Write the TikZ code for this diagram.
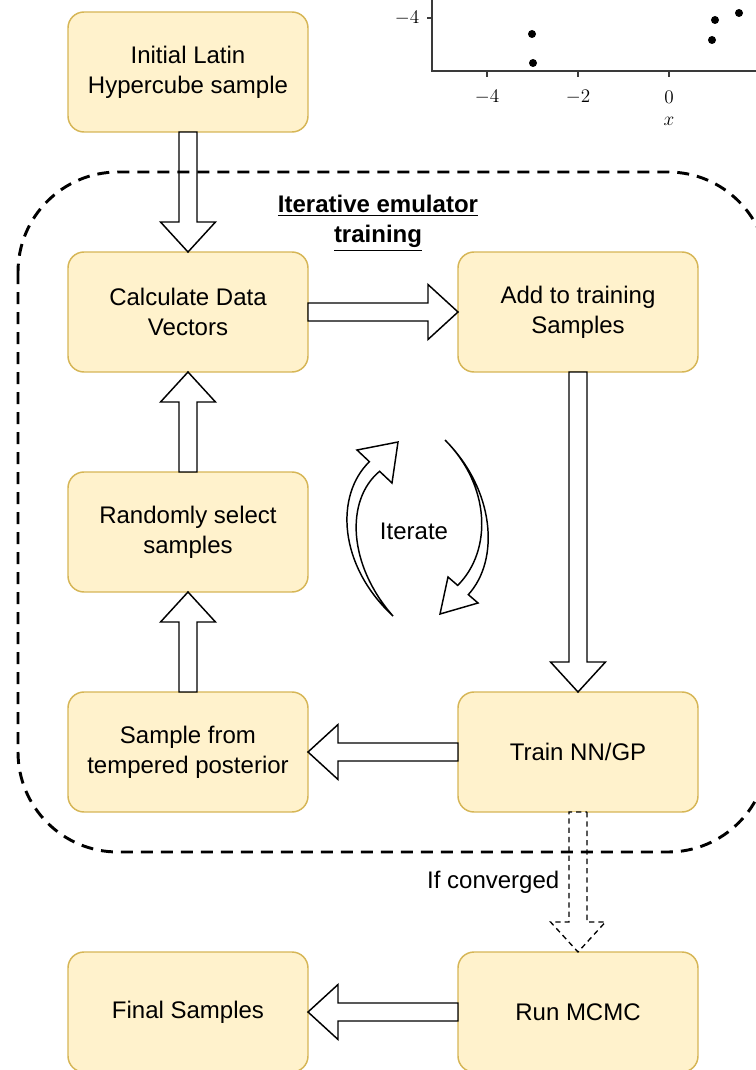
\documentclass[tikz,border=0pt]{standalone}
\usepackage{fontspec}
\setmainfont{Liberation Sans}
\usetikzlibrary{calc}
\definecolor{boxfill}{HTML}{FFF2CC}
\definecolor{boxline}{HTML}{D6B656}
\definecolor{axisgray}{HTML}{3A3A3A}
\tikzset{
  stepbox/.style={draw=boxline, fill=boxfill, line width=1.1pt, rounded corners=12pt,
    minimum width=180pt, minimum height=90pt, outer sep=0pt, align=center,
    font=\fontsize{18}{22.5}\selectfont},
  blockarrowstyle/.style={draw=black, fill=white, line width=1.1pt, line join=miter},
  plaintext/.style={font=\fontsize{18}{22.5}\selectfont, align=center},
  ticklabel/.style={font=\fontsize{14.5}{17}\selectfont},
  dot/.style={fill=black, draw=none},
}
\newcommand\blockarrow[3][]{%
  \coordinate (ba-h) at ($(#3)!22.5pt!(#2)$);
  \draw[blockarrowstyle,#1]
    ($(#2)!6.75pt!90:(#3)$) -- ($(ba-h)!6.75pt!90:(#3)$) -- ($(ba-h)!20.6pt!90:(#3)$)
    -- (#3) -- ($(ba-h)!20.6pt!-90:(#3)$) -- ($(ba-h)!6.75pt!-90:(#3)$)
    -- ($(#2)!6.75pt!-90:(#3)$) -- cycle;
}
\begin{document}
\begin{tikzpicture}[x=0.75pt, y=-0.75pt]
\useasboundingbox (0,0) rectangle (756,1070);
\clip (0,0) rectangle (756,1070);

% ---- partial plot (top right) ----
\draw[axisgray, line width=1.3pt] (432,-5) -- (432,71) -- (760,71);
\draw[axisgray, line width=1.1pt] (427,18) -- (432,18);
\foreach \xx in {487,578,669,760} \draw[axisgray, line width=1.1pt] (\xx,71) -- (\xx,77);
\node[ticklabel, anchor=east] (ylab) at (424,18) {$-4$};
\node[ticklabel] (xl1) at (487,97) {$-4$};
\node[ticklabel] (xl2) at (578,97) {$-2$};
\node[ticklabel] (xl3) at (669,97) {$0$};
\node[ticklabel] (xl4) at (760,97) {$2$};
\node[ticklabel] (xname) at (669,121) {$x$};
\foreach \px/\py in {532/34, 533/63, 715/20, 712/40, 739/13}
  \fill[dot] (\px,\py) circle (3pt);

% ---- boxes ----
\node[stepbox] (b1) at (188,72) {Initial Latin\\Hypercube sample};
\node[stepbox] (b2) at (188,312) {Calculate Data\\Vectors};
\node[stepbox] (b3) at (578,312) {Add to training\\Samples};
\node[stepbox] (b4) at (188,532) {Randomly select\\samples};
\node[stepbox] (b5) at (188,752) {Sample from\\tempered posterior};
\node[stepbox] (b6) at (578,752) {Train NN/GP};
\node[stepbox] (b7) at (188,1012) {Final Samples};
\node[stepbox] (b8) at (578,1012) {Run MCMC};

% ---- block arrows ----
\blockarrow{b1.south}{b2.north}
\blockarrow{b2.east}{b3.west}
\blockarrow{b3.south}{b6.north}
\blockarrow{b4.north}{b2.south}
\blockarrow{b5.north}{b4.south}
\blockarrow{b6.west}{b5.east}
\blockarrow[dash pattern=on 4pt off 3pt, line width=1pt]{b6.south}{b8.north}
\blockarrow{b8.west}{b7.east}

% ---- iterate curved arrows ----
\draw[blockarrowstyle] (393,616) .. controls (338,565) and (335,495) .. (369.4,461.7)
  -- (357,450) -- (398,442) -- (392,483) -- (379.6,471.3)
  .. controls (345,500) and (348,565) .. (393,616) -- cycle;
\draw[blockarrowstyle] (445,440) .. controls (495,490) and (500,560) .. (468.3,594.6)
  -- (478,603) -- (440,614) -- (448,577) -- (457.7,585.4)
  .. controls (493,550) and (490,485) .. (445,440) -- cycle;
\node[plaintext] (iter) at (414,531) {Iterate};

% ---- labels ----
\node[plaintext, font=\fontsize{18}{22.5}\selectfont\bfseries] (title) at (378,223)
  {\underline{Iterative emulator}\\\underline{training}};
\node[plaintext, anchor=east] (conv) at (564,882) {If converged};

% ---- dashed container ----
\draw[line width=2.2pt, dash pattern=on 9pt off 6pt, rounded corners=75pt]
  (18,172) rectangle (768,852);
\end{tikzpicture}
\end{document}
